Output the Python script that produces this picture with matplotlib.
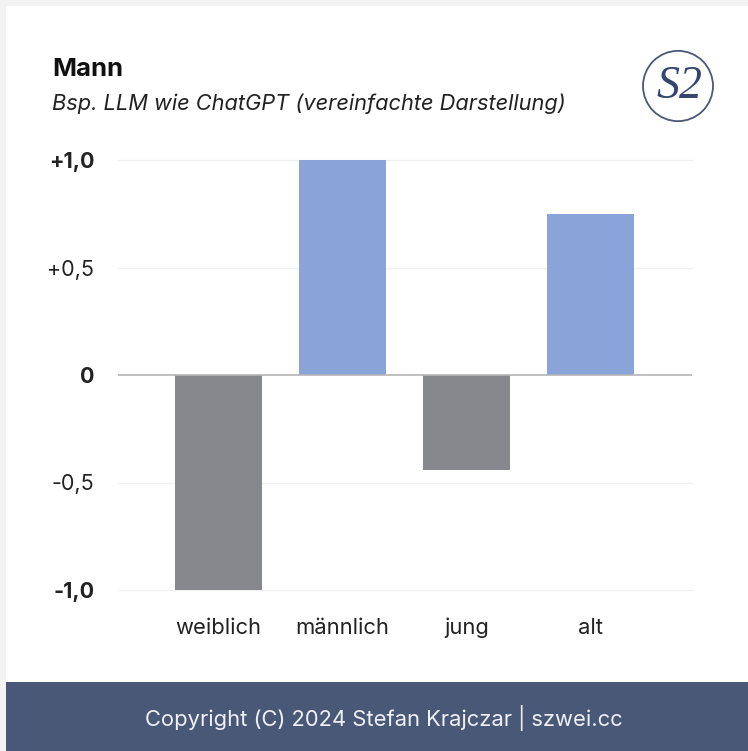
import matplotlib.pyplot as plt
from matplotlib.patches import Rectangle, Circle

# data
categories = ["weiblich", "männlich", "jung", "alt"]
values = [-1.0, 1.0, -0.44, 0.75]
tick_vals = [-1.0, -0.5, 0, 0.5, 1.0]
tick_labels = ["-1,0", "-0,5", "0", "+0,5", "+1,0"]

blue = "#8aa3d8"
grey = "#87888d"
navy = "#4a5878"

plt.rcParams['font.family'] = ['Inter', 'DejaVu Sans']

W, H = 748, 751
fig = plt.figure(figsize=(W / 100, H / 100), dpi=100)
fig.patch.set_facecolor("#f3f3f3")

# white card + footer band (behind the axes)
fig.patches.append(Rectangle((6 / W, 0), 1, 1 - 6 / H, transform=fig.transFigure,
                             facecolor="white", edgecolor="none", zorder=-3))
fig.patches.append(Rectangle((6 / W, 0), 1, (H - 682) / H, transform=fig.transFigure,
                             facecolor=navy, edgecolor="none", zorder=-2))
fig.text(384 / W, 1 - 718 / H, "Copyright (C) 2024 Stefan Krajczar | szwei.cc",
         color="#eef0f4", fontsize=15.8, ha="center", va="center")

# titles
fig.text(52 / W, 1 - 69 / H, "Mann", fontsize=18.5, fontweight="bold",
         color="#111111", ha="left", va="center")
fig.text(52 / W, 1 - 104 / H, "Bsp. LLM wie ChatGPT (vereinfachte Darstellung)",
         fontsize=15.7, style="italic", color="#222222", ha="left", va="center")

# logo
cx, cy = 678, 86
fig.patches.append(Circle((cx / W, 1 - cy / H), 35 / W, transform=fig.transFigure,
                          facecolor="white", edgecolor=navy, linewidth=1.3, zorder=3))
fig.text((cx + 1) / W, 1 - (cy + 1) / H, "S2", family="Liberation Serif", fontsize=33,
         style="italic", color="#34456f", ha="center", va="center", zorder=4)

ax = fig.add_axes([118 / W, 1 - 590 / H, 574 / W, 430 / H])
ax.set_facecolor("none")
x = list(range(len(categories)))
colors = [blue if v > 0 else grey for v in values]
ax.bar(x, values, width=0.70, color=colors, zorder=2)

ax.set_xlim(-0.81, 3.82)
ax.set_ylim(-1.0, 1.0)
ax.set_yticks(tick_vals)
ax.set_yticklabels(tick_labels)
for v in tick_vals:
    if v == 0:
        ax.axhline(0, color="#b5b5b5", linewidth=1.2, zorder=3)
    else:
        ax.axhline(v, color="#f0f0f0", linewidth=1.0, zorder=1, clip_on=False)
for lbl, v in zip(ax.get_yticklabels(), tick_vals):
    lbl.set_fontsize(15.5)
    lbl.set_color("#222222")
    if abs(v) in (0, 1.0):
        lbl.set_fontweight("bold")

ax.set_xticks(x)
ax.set_xticklabels(categories, fontsize=15.8, color="#222222")
ax.tick_params(axis="x", length=0, pad=20)
ax.tick_params(axis="y", length=0, pad=17)
for s in ax.spines.values():
    s.set_visible(False)

fig.savefig("out.png", dpi=100, facecolor=fig.get_facecolor())
